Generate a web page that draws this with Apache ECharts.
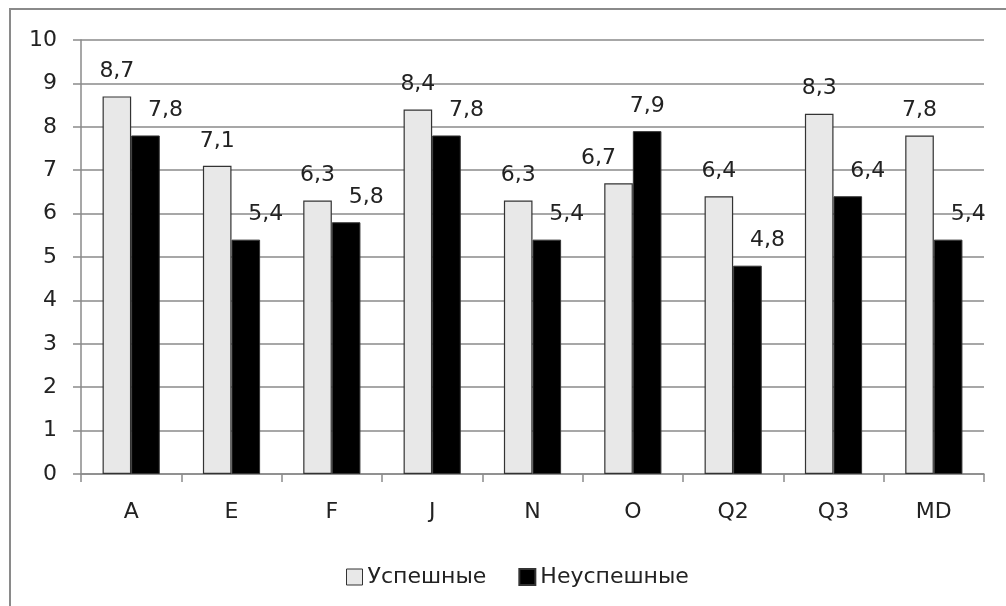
<!DOCTYPE html>
<html>
<head>
<meta charset="utf-8">
<script src="https://cdn.jsdelivr.net/npm/echarts@6/dist/echarts.min.js"></script>
<style>
html,body{margin:0;padding:0;background:#fff;}
#c{width:1006px;height:606px;}
</style>
</head>
<body>
<div id="c"></div>
<script>
const categories = ['A', 'E', 'F', 'J', 'N', 'O', 'Q2', 'Q3', 'MD'];
const successful = [8.7, 7.1, 6.3, 8.4, 6.3, 6.7, 6.4, 8.3, 7.8];
const unsuccessful = [7.8, 5.4, 5.8, 7.8, 5.4, 7.9, 4.8, 6.4, 5.4];
const seriesNames = ['Успешные', 'Неуспешные'];

const FONT = '"DejaVu Sans", "Noto Sans", sans-serif';
const chart = echarts.init(document.getElementById('c'));
const fmt = p => String(p.value).replace('.', ',');
// lower label of each pair nudged outward (as the reference's overlap avoidance)
const SHIFT = 20;
const dataOf = (vals, other, dir) => vals.map((v, i) => ({
  value: v,
  label: v < other[i] ? { offset: [dir * SHIFT, 0] } : {}
}));
chart.setOption({
  backgroundColor: '#fff',
  animation: false,
  textStyle: { fontFamily: FONT },
  graphic: [{
    type: 'rect', shape: { x: 10, y: 9, width: 1200, height: 800 },
    style: { fill: 'none', stroke: '#8a8a8a', lineWidth: 2 }, silent: true, z: -1
  }],
  grid: { left: 81, right: 22, top: 40, bottom: 132 },
  legend: {
    left: 341, top: 561, itemWidth: 16, itemHeight: 16, itemGap: 32, itemTextGap: 6,
    textStyle: { fontSize: 22, color: '#222', fontFamily: FONT },
    data: [
      { name: seriesNames[0], icon: 'rect', itemStyle: { color: '#e8e8e8', borderColor: '#333', borderWidth: 1 } },
      { name: seriesNames[1], icon: 'rect', itemStyle: { color: '#000' } }
    ]
  },
  xAxis: {
    type: 'category', data: categories,
    axisLine: { lineStyle: { color: '#8a8a8a', width: 1.5 } },
    axisTick: { show: true, length: 8, lineStyle: { color: '#8a8a8a', width: 1.5 } },
    axisLabel: { fontSize: 22, color: '#222', margin: 27, fontFamily: FONT }
  },
  yAxis: {
    type: 'value', min: 0, max: 10, interval: 1,
    axisLine: { show: true, lineStyle: { color: '#8a8a8a', width: 1.5 } },
    axisTick: { show: true, length: 8, lineStyle: { color: '#8a8a8a', width: 1.5 } },
    splitLine: { lineStyle: { color: '#8a8a8a', width: 1.5 } },
    axisLabel: { fontSize: 22, color: '#222', margin: 24, fontFamily: FONT }
  },
  series: [
    {
      name: seriesNames[0], type: 'bar', data: dataOf(successful, unsuccessful, -1),
      barGap: '0%', barCategoryGap: '43%',
      itemStyle: { color: '#e8e8e8', borderColor: '#333', borderWidth: 1.2 },
      label: { show: true, position: 'top', distance: 14, fontSize: 22, color: '#222', formatter: fmt, fontFamily: FONT }
    },
    {
      name: seriesNames[1], type: 'bar', data: dataOf(unsuccessful, successful, 1),
      barGap: '0%', barCategoryGap: '43%',
      itemStyle: { color: '#000', borderColor: '#333', borderWidth: 1 },
      label: { show: true, position: 'top', distance: 14, fontSize: 22, color: '#222', formatter: fmt, fontFamily: FONT }
    }
  ]
});
</script>
</body>
</html>
